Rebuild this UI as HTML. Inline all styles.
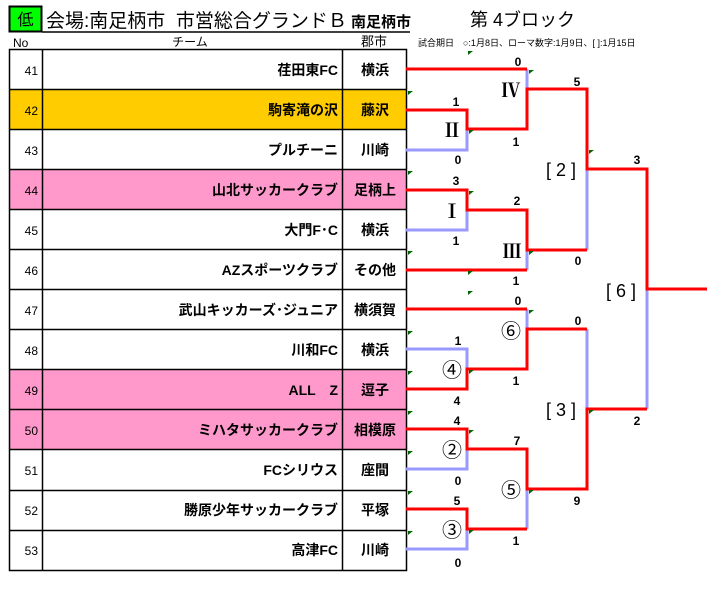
<!DOCTYPE html>
<html><head><meta charset="utf-8"><style>
html,body{margin:0;padding:0;background:#fff;width:716px;height:603px;overflow:hidden}
svg{display:block}
text{font-family:"Liberation Sans","Noto Sans CJK JP",sans-serif;fill:#000}
.t{font-size:14px;font-weight:bold;text-anchor:end}
.c{font-size:14px;font-weight:bold;text-anchor:middle}
.n{font-size:12px;text-anchor:end}
.s{font-size:12px;font-weight:bold;text-anchor:middle}
.m{font-size:19px;text-anchor:middle;font-family:"Liberation Serif","Noto Serif CJK SC",serif;font-weight:bold}
.o{font-size:20px;text-anchor:middle;font-family:"Liberation Sans","Noto Sans CJK JP",sans-serif}
.b{font-size:18px;text-anchor:middle}
.r{stroke:#ff0000;stroke-width:3;fill:none}
.l{stroke:#9999ff;stroke-width:3;fill:none}
</style></head><body>
<svg width="716" height="603" viewBox="0 0 716 603" xmlns="http://www.w3.org/2000/svg">
<rect x="9.5" y="6.5" width="32" height="25" fill="#00ff00" stroke="#000" stroke-width="2"/>
<text x="25.5" y="25" style="font-size:16px;text-anchor:middle">低</text>
<text x="46" y="27" style="font-size:19px">会場:南足柄市&#160;&#160;市営総合グランドＢ<tspan style="font-size:15px;font-weight:bold"> 南足柄市</tspan></text>
<line x1="42" y1="32" x2="410" y2="32" stroke="#000" stroke-width="1.5"/>
<text x="470" y="26" style="font-size:18px">第 4ブロック</text>
<text x="13" y="47" style="font-size:12px">No</text>
<text x="190" y="46" style="font-size:12px;text-anchor:middle">チーム</text>
<text x="374" y="46" style="font-size:13px;text-anchor:middle">郡市</text>
<text x="418" y="46" style="font-size:9px">試合期日　○:1月8日、ローマ数字:1月9日、[ ]:1月15日</text>
<g stroke="#000" stroke-width="1.5">
<rect x="9.5" y="89.5" width="397" height="40" fill="#ffcc00" stroke="none"/>
<rect x="9.5" y="169.5" width="397" height="40" fill="#ff99cc" stroke="none"/>
<rect x="9.5" y="369.5" width="397" height="80" fill="#ff99cc" stroke="none"/>
<rect x="9.5" y="49.5" width="397" height="521" fill="none"/>
<line x1="42.5" y1="49.5" x2="42.5" y2="570.5"/>
<line x1="342.5" y1="49.5" x2="342.5" y2="570.5"/>
<line x1="9.5" y1="89.5" x2="406.5" y2="89.5"/>
<line x1="9.5" y1="129.5" x2="406.5" y2="129.5"/>
<line x1="9.5" y1="169.5" x2="406.5" y2="169.5"/>
<line x1="9.5" y1="209.5" x2="406.5" y2="209.5"/>
<line x1="9.5" y1="249.5" x2="406.5" y2="249.5"/>
<line x1="9.5" y1="289.5" x2="406.5" y2="289.5"/>
<line x1="9.5" y1="329.5" x2="406.5" y2="329.5"/>
<line x1="9.5" y1="369.5" x2="406.5" y2="369.5"/>
<line x1="9.5" y1="409.5" x2="406.5" y2="409.5"/>
<line x1="9.5" y1="449.5" x2="406.5" y2="449.5"/>
<line x1="9.5" y1="490.5" x2="406.5" y2="490.5"/>
<line x1="9.5" y1="530.5" x2="406.5" y2="530.5"/>
</g>
<g>
<text class="n" x="38" y="75">41</text><text class="t" x="338" y="75">荏田東FC</text><text class="c" x="375" y="75">横浜</text>
<text class="n" x="38" y="115">42</text><text class="t" x="338" y="115">駒寄滝の沢</text><text class="c" x="375" y="115">藤沢</text>
<text class="n" x="38" y="155">43</text><text class="t" x="338" y="155">プルチーニ</text><text class="c" x="375" y="155">川崎</text>
<text class="n" x="38" y="195">44</text><text class="t" x="338" y="195">山北サッカークラブ</text><text class="c" x="375" y="195">足柄上</text>
<text class="n" x="38" y="235">45</text><text class="t" x="338" y="235">大門F･C</text><text class="c" x="375" y="235">横浜</text>
<text class="n" x="38" y="275">46</text><text class="t" x="338" y="275">AZスポーツクラブ</text><text class="c" x="375" y="275">その他</text>
<text class="n" x="38" y="315">47</text><text class="t" x="338" y="315">武山キッカーズ･ジュニア</text><text class="c" x="375" y="315">横須賀</text>
<text class="n" x="38" y="355">48</text><text class="t" x="338" y="355">川和FC</text><text class="c" x="375" y="355">横浜</text>
<text class="n" x="38" y="395">49</text><text class="t" x="338" y="395">ALL　Z</text><text class="c" x="375" y="395">逗子</text>
<text class="n" x="38" y="435">50</text><text class="t" x="338" y="435">ミハタサッカークラブ</text><text class="c" x="375" y="435">相模原</text>
<text class="n" x="38" y="475">51</text><text class="t" x="338" y="475">FCシリウス</text><text class="c" x="375" y="475">座間</text>
<text class="n" x="38" y="515">52</text><text class="t" x="338" y="515">勝原少年サッカークラブ</text><text class="c" x="375" y="515">平塚</text>
<text class="n" x="38" y="555">53</text><text class="t" x="338" y="555">高津FC</text><text class="c" x="375" y="555">川崎</text>
</g>
<path class="l" d="M527,69 V89 M467,129 V150 H406 M467,210 V230 H406 M527,250 V270 M587,169 V250 M647,289 V409
M527,309 V329 M406,349 H467 V369 M467,449 V469 H406 M467,529 V549 H406 M527,489 V529 M587,329 V409"/>
<path class="r" d="M406,69 H527 M406,110 H467 V129 H527 V89 H587 V169 H647 V289 H707
M406,190 H467 V210 H527 V250 H587 M406,270 H527
M406,309 H527 M406,389 H467 V369 H527 V329 H587
M406,429 H467 V449 H527 V489 H587 V409 H647 M406,509 H467 V529 H527"/>
<g fill="#006600">
<path d="M408,91 l5,0 l-5,4z"/><path d="M408,171 l5,0 l-5,4z"/><path d="M408,251 l5,0 l-5,4z"/>
<path d="M408,331 l5,0 l-5,4z"/><path d="M408,371 l5,0 l-5,4z"/><path d="M408,411 l5,0 l-5,4z"/>
<path d="M408,451 l5,0 l-5,4z"/><path d="M408,491 l5,0 l-5,4z"/><path d="M408,531 l5,0 l-5,4z"/>
<path d="M468,51 l5,0 l-5,4z"/><path d="M468,271 l5,0 l-5,4z"/><path d="M468,291 l5,0 l-5,4z"/>
<path d="M529,70 l5,0 l-5,4z"/><path d="M469,130 l5,0 l-5,4z"/><path d="M469,191 l5,0 l-5,4z"/>
<path d="M529,251 l5,0 l-5,4z"/><path d="M589,150 l5,0 l-5,4z"/><path d="M529,310 l5,0 l-5,4z"/>
<path d="M469,370 l5,0 l-5,4z"/><path d="M589,410 l5,0 l-5,4z"/><path d="M469,430 l5,0 l-5,4z"/>
<path d="M529,490 l5,0 l-5,4z"/><path d="M469,530 l5,0 l-5,4z"/>
</g>
<g>
<text class="s" x="518" y="66">0</text><text class="s" x="577" y="86">5</text>
<text class="s" x="456" y="106">1</text><text class="s" x="516" y="146">1</text>
<text class="s" x="458" y="164">0</text><text class="s" x="637" y="164">3</text>
<text class="s" x="456" y="185">3</text><text class="s" x="517" y="205">2</text>
<text class="s" x="456" y="245">1</text><text class="s" x="578" y="265">0</text>
<text class="s" x="516" y="285">1</text><text class="s" x="518" y="305">0</text>
<text class="s" x="578" y="325">0</text><text class="s" x="458" y="345">1</text>
<text class="s" x="516" y="385">1</text><text class="s" x="457" y="405">4</text>
<text class="s" x="457" y="425">4</text><text class="s" x="637" y="425">2</text>
<text class="s" x="517" y="445">7</text><text class="s" x="458" y="485">0</text>
<text class="s" x="457" y="505">5</text><text class="s" x="577" y="505">9</text>
<text class="s" x="516" y="545">1</text><text class="s" x="458" y="567">0</text>
</g>
<g>
<text class="m" x="511" y="97">Ⅳ</text><text class="m" x="452" y="137">Ⅱ</text>
<text class="m" x="452" y="218">Ⅰ</text><text class="m" x="512" y="258">Ⅲ</text>
<text class="o" x="511" y="338">⑥</text><text class="o" x="452" y="377">④</text>
<text class="o" x="452" y="457">②</text><text class="o" x="511" y="497">⑤</text>
<text class="o" x="452" y="537">③</text>
<text class="b" x="561" y="176">[&#160;2&#160;]</text><text class="b" x="621" y="297">[&#160;6&#160;]</text>
<text class="b" x="561" y="416">[&#160;3&#160;]</text>
</g>
</svg>
</body></html>
